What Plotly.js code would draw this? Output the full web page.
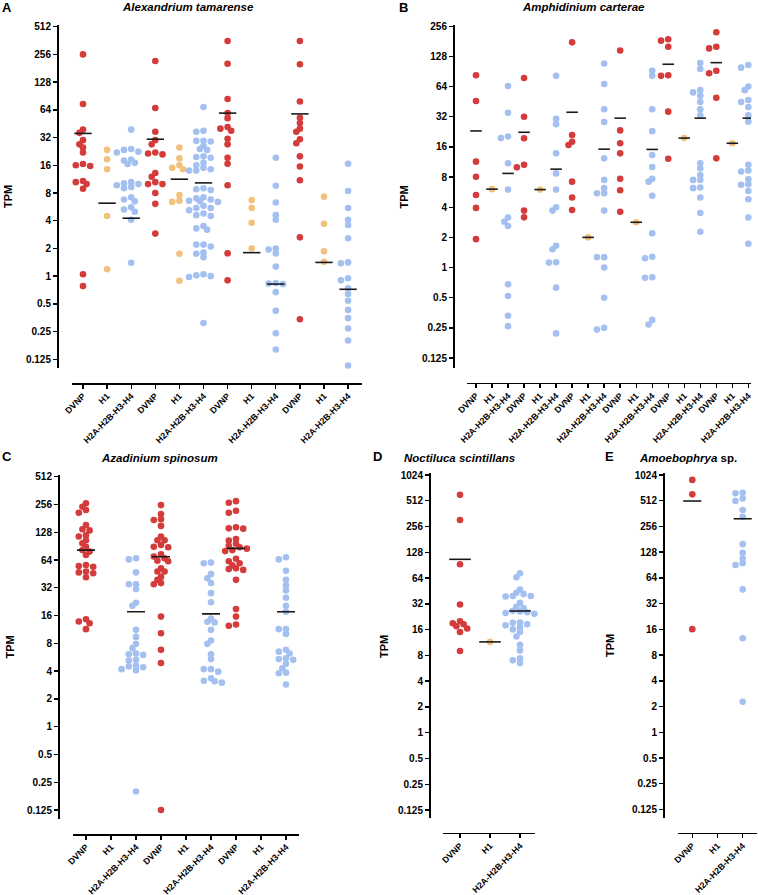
<!DOCTYPE html>
<html>
<head>
<meta charset="utf-8">
<script src="https://cdn.plot.ly/plotly-3.0.1.min.js"></script>
<style>html,body{margin:0;padding:0;background:#fff;}#chart{width:758px;height:895px;}</style>
</head>
<body>
<div id="chart"></div>
<script>
// ---------------- DATA ----------------
const groupTypes = ['DVNP', 'H1', 'H2A-H2B-H3-H4'];
const yTicksA = [0.125, 0.25, 0.5, 1, 2, 4, 8, 16, 32, 64, 128, 256, 512];
const yTicksB = [0.125, 0.25, 0.5, 1, 2, 4, 8, 16, 32, 64, 128, 256];
const yTicksD = [0.125, 0.25, 0.5, 1, 2, 4, 8, 16, 32, 64, 128, 256, 512, 1024];
const yTickText = {0.125:'0.125',0.25:'0.25',0.5:'0.5',1:'1',2:'2',4:'4',8:'8',16:'16',32:'32',64:'64',128:'128',256:'256',512:'512',1024:'1024'};

// A: Alexandrium tamarense (4 x DVNP/H1/H2A-H2B-H3-H4)
const alexandriumTPM = [
  [256, 74, 39, 36, 30, 27, 25, 22, 16.5, 16, 15.7, 10.8, 10.5, 10, 8.9, 1.05, 0.78],
  [23.5, 18.6, 14.5, 4.5, 1.19],
  [39, 24, 23.5, 22.5, 22, 18.5, 18, 17, 16.5, 10.5, 10.2, 10, 9.7, 9.3, 9, 7.2, 6.8, 6.5, 5.6, 5.3, 5.0, 4.1, 1.4],
  [217, 67, 37, 30, 27, 22, 21.5, 21, 13.2, 12, 10.5, 10, 10, 8, 6.1, 2.9],
  [25, 19, 16, 15, 14.5, 7.6, 6.6, 6.4, 1.75, 0.89],
  [68.6, 38, 37, 29.6, 29.6, 29, 26, 24, 23.5, 20, 19.7, 19.3, 17, 16, 15, 14.5, 14, 14, 9, 8.8, 8.6, 7.2, 7, 6.8, 6.6, 6.5, 6.4, 5.8, 5.5, 5.5, 5.2, 4.8, 4.6, 4.5, 3.5, 3.3, 3.2, 2.2, 2.2, 2.1, 1.8, 1.75, 1.6, 1.05, 1.02, 1.0, 0.98, 0.31],
  [358, 203, 84, 59, 52, 41.6, 40, 38, 31, 27, 19.3, 16.6, 9.7, 1.77, 0.9],
  [6.7, 5.5, 3.8, 2.0],
  [19.3, 9.6, 6.3, 4.6, 4.1, 2.0, 1.95, 1.77, 1.27, 0.84, 0.83, 0.82, 0.67, 0.42, 0.24, 0.16],
  [358, 200, 79, 52.6, 46, 40, 37, 30.7, 27.8, 20, 15.5, 11, 2.64, 0.34],
  [7.3, 3.7, 1.86, 1.43],
  [16.6, 8.4, 5.5, 4.1, 3.6, 2.58, 1.41, 1.38, 0.95, 0.9, 0.74, 0.64, 0.54, 0.43, 0.35, 0.27, 0.2, 0.107]
];
const alexandriumMean = [35.5, 6.2, 4.26, 30.7, 11.3, 10.3, 59, 1.8, 0.82, 57.8, 1.41, 0.72];

// B: Amphidinium carterae (6 x)
const amphidiniumTPM = [
  [83, 46, 11.4, 8.05, 5.3, 3.94, 1.92],
  [6.06],
  [65, 35, 20.3, 19.6, 11, 6.0, 3.16, 2.87, 2.6, 0.68, 0.52, 0.33, 0.26],
  [78, 32, 19.5, 10.6, 10, 3.7, 3.17],
  [6.0],
  [82, 30.6, 27, 13.8, 8.7, 6.0, 4.0, 3.7, 1.65, 1.52, 1.13, 1.12, 0.63, 0.22],
  [177, 21, 18, 16.7, 7.2, 5.0, 3.75],
  [2.0],
  [109, 68, 38, 28.4, 12.3, 7.5, 6.2, 5.5, 5.5, 3.7, 1.27, 1.27, 1.0, 0.5, 0.25, 0.24],
  [147, 23.4, 17.4, 13.8, 7.7, 5.9, 3.6],
  [2.83],
  [92, 82, 38, 23, 13.3, 10.1, 7.7, 7.2, 5.2, 2.2, 1.28, 1.24, 0.8, 0.79, 0.3, 0.27],
  [190, 184, 160, 83, 82, 36, 12.2],
  [19.6],
  [110, 96, 59, 56, 52, 45, 38, 33, 11, 9.8, 8.4, 7.5, 7.5, 6.3, 6.2, 5.0, 3.5, 2.28],
  [223, 160, 154, 92, 87, 49.5, 12.3],
  [17.4],
  [105, 99, 64, 59, 47, 45, 40, 33, 28.6, 10.6, 9.3, 9.1, 8.9, 7.6, 6.8, 6.7, 5.8, 4.8, 3.16, 1.73]
];
const amphidiniumMean = [23.1, 6.06, 8.7, 22.4, 6.0, 9.6, 35.5, 2.0, 15.2, 31, 2.83, 15.1, 107, 19.6, 31, 111, 17.4, 31];

// C: Azadinium spinosum (3 x)
const azadiniumTPM = [
  [264, 242, 223, 208, 153, 138, 134, 119, 115, 105, 97, 89, 82, 79, 72.5, 56.5, 55, 54, 48, 47, 46, 41.6, 14.6, 13.8, 13.2, 11.4],
  [],
  [67, 65, 47, 35, 35, 31, 22, 20.4, 11.2, 9.4, 7.9, 7.1, 6.2, 6.1, 6.0, 5.3, 5.2, 4.6, 4.5, 4.4, 4.2, 4.1, 0.198],
  [252, 202, 177, 174, 150, 115, 105, 105, 93, 89, 88, 74, 70, 67, 63, 62, 52, 48, 48, 42, 39, 36, 35, 15.6, 10.3, 6.8, 4.9, 0.125],
  [],
  [60, 59, 45, 40.5, 36, 28, 22.3, 14.9, 13.7, 13.5, 11.2, 8.6, 7.9, 6.1, 5.4, 4.2, 4.2, 3.95, 3.35, 3.15, 3.1, 3.0],
  [278, 267, 219, 208, 145, 141, 140, 108, 104, 96, 91, 88, 85, 82, 80, 66, 62, 59, 56, 52, 51, 50, 39, 18.8, 15.6, 12.8, 12.4],
  [],
  [68.6, 65, 49, 39, 34, 30, 25, 20.4, 17.6, 11.4, 11.4, 10.1, 6.8, 6.5, 6.2, 5.5, 5.4, 5.3, 4.8, 4.3, 3.85, 3.8, 2.87]
];
const azadiniumMean = [82, null, 17.6, 69.5, null, 16.7, 85.6, null, 17.6];

// D: Noctiluca scintillans
const noctilucaTPM = [
  [600, 305, 93, 31.5, 20, 19, 18.5, 17.5, 16.5, 15, 9],
  [11.5],
  [73, 65.5, 47, 43, 41.6, 39.5, 39.5, 39, 33, 29.6, 28.5, 26.5, 26, 25.5, 25, 24.5, 19.3, 19.2, 18.5, 18, 17, 16.1, 15, 13.3, 10.6, 9.1, 7.4, 7.0, 6.5]
];
const noctilucaMean = [106, 11.5, 26.4];

// E: Amoebophrya sp.
const amoebophryaTPM = [
  [897, 608, 16.1],
  [],
  [634, 625, 545, 508, 399, 333, 159, 126, 108, 95, 90.5, 47, 12.6, 2.28]
];
const amoebophryaMean = [508, null, 315];

// ---------------- STYLE / LAYOUT ----------------
const W = 758, H = 895;
const FONT = 'Liberation Sans, Arial, Helvetica, sans-serif';
const COLORS = {'DVNP': '#D43B3B', 'H1': '#F2C17E', 'H2A-H2B-H3-H4': '#A3C0F1'};
const fx = px => px / W;
const fy = py => 1 - py / H;

const panels = [
  {id: '', data: alexandriumTPM, mean: alexandriumMean, ticks: yTicksA,
   yAxisX: 57, yTop: 25, yBot: 368, ref1: [512, 26.7], ref2: [0.125, 359.3],
   xLineY: 383, xLeft: 72, xRight: 362, tick0: 83, step: 24.1},
  {id: '2', data: amphidiniumTPM, mean: amphidiniumMean, ticks: yTicksB,
   yAxisX: 453, yTop: 25, yBot: 368, ref1: [256, 26.3], ref2: [0.125, 358],
   xLineY: 382.7, xLeft: 467, xRight: 751, tick0: 476, step: 16.02},
  {id: '3', data: azadiniumTPM, mean: azadiniumMean, ticks: yTicksA,
   yAxisX: 58, yTop: 475, yBot: 819, ref1: [512, 476.7], ref2: [0.125, 810],
   xLineY: 834, xLeft: 72.7, xRight: 299, tick0: 86, step: 25},
  {id: '4', data: noctilucaTPM, mean: noctilucaMean, ticks: yTicksD,
   yAxisX: 429, yTop: 473, yBot: 818, ref1: [1024, 475], ref2: [0.125, 810],
   xLineY: 832.7, xLeft: 443, xRight: 535, tick0: 460, step: 30},
  {id: '5', data: amoebophryaTPM, mean: amoebophryaMean, ticks: yTicksD,
   yAxisX: 663, yTop: 473, yBot: 818, ref1: [1024, 475], ref2: [0.125, 809.5],
   xLineY: 832.7, xLeft: 678, xRight: 757, tick0: 692.3, step: 25.2}
];

// swarm layout (pixel space): dots may overlap a little, like the original
const COLL = 4.6, STEP = 3.6;
function swarmOffsets(vals, pxPerDec) {
  const order = vals.map((v, i) => i).sort((a, b) => vals[b] - vals[a]);
  const placed = [];
  const off = new Array(vals.length).fill(0);
  for (const i of order) {
    const y = -Math.log10(vals[i]) * pxPerDec;
    let chosen = 0;
    for (let k = 0; k < 80; k++) {
      const cand = k === 0 ? 0 : (k % 2 ? -1 : 1) * Math.ceil(k / 2) * STEP;
      const ok = placed.every(p => (p.x - cand) ** 2 + (p.y - y) ** 2 >= COLL * COLL);
      if (ok) { chosen = cand; break; }
    }
    placed.push({x: chosen, y: y});
    off[i] = chosen;
  }
  return off;
}

const traces = [];
const layout = {
  width: W, height: H,
  margin: {l: 0, r: 0, t: 0, b: 0},
  paper_bgcolor: '#fff', plot_bgcolor: 'rgba(0,0,0,0)',
  showlegend: false,
  font: {family: FONT, color: '#000'},
  annotations: []
};

panels.forEach(p => {
  const l1 = Math.log10(p.ref1[0]), l2 = Math.log10(p.ref2[0]);
  const pxPerDec = (p.ref2[1] - p.ref1[1]) / (l1 - l2);
  const yRange = [l1 - (p.yBot - p.ref1[1]) / pxPerDec, l1 + (p.ref1[1] - p.yTop) / pxPerDec];
  const xRange = [(p.xLeft - p.tick0) / p.step, (p.xRight - p.tick0) / p.step];
  const xa = 'x' + p.id, ya = 'y' + p.id;

  layout['xaxis' + p.id] = {
    domain: [fx(p.xLeft), fx(p.xRight)], anchor: 'free', position: fy(p.xLineY),
    range: xRange, type: 'linear', showgrid: false, zeroline: false,
    showline: true, linecolor: '#000', linewidth: 1.6,
    ticks: 'outside', ticklen: 4, tickwidth: 1.4, tickcolor: '#000',
    tickvals: p.data.map((d, i) => i),
    ticktext: p.data.map((d, i) => groupTypes[i % 3]),
    tickangle: -45, ticklabelstandoff: -1,
    tickfont: {family: FONT, size: 8.8, weight: 'bold', color: '#000'},
    fixedrange: true
  };
  layout['yaxis' + p.id] = {
    domain: [fy(p.yBot), fy(p.yTop)], anchor: 'free', position: fx(p.yAxisX),
    type: 'log', range: yRange, showgrid: false, zeroline: false,
    showline: true, linecolor: '#000', linewidth: 1.6,
    ticks: 'outside', ticklen: 4, tickwidth: 1.4, tickcolor: '#000',
    tickvals: p.ticks, ticktext: p.ticks.map(t => yTickText[t]),
    tickfont: {family: FONT, size: 10, weight: 'bold', color: '#000'},
    fixedrange: true
  };

  p.data.forEach((vals, gi) => {
    if (!vals.length) return;
    const off = swarmOffsets(vals, pxPerDec);
    traces.push({
      type: 'scatter', mode: 'markers', xaxis: xa, yaxis: ya,
      x: vals.map((v, i) => gi + off[i] / p.step), y: vals,
      marker: {size: 6.6, color: COLORS[groupTypes[gi % 3]], line: {width: 0}},
      cliponaxis: false, hoverinfo: 'skip'
    });
  });
  const lx = [], ly = [];
  p.mean.forEach((m, gi) => {
    if (m === null) return;
    lx.push(gi - 0.36, gi + 0.36, null);
    ly.push(m, m, null);
  });
  traces.push({
    type: 'scatter', mode: 'lines', xaxis: xa, yaxis: ya, x: lx, y: ly,
    line: {color: '#1a1a1a', width: 1.6}, cliponaxis: false, hoverinfo: 'skip'
  });
});

function ann(text, px, py, size, extra) {
  layout.annotations.push(Object.assign({
    text: text, xref: 'paper', yref: 'paper', x: fx(px), y: fy(py),
    xanchor: 'center', yanchor: 'middle', showarrow: false,
    font: {family: FONT, size: size, color: '#000', weight: 'bold'}
  }, extra || {}));
}
// panel letters
ann('A', 7, 7.5, 13); ann('B', 403, 7.5, 13); ann('C', 6.5, 457, 13); ann('D', 377, 457, 13); ann('E', 609, 457, 13);
// panel titles
ann('<i>Alexandrium tamarense</i>', 188, 7.5, 11.5);
ann('<i>Amphidinium carterae</i>', 583.5, 7.5, 11.5);
ann('<i>Azadinium spinosum</i>', 159.5, 458, 11.5);
ann('<i>Noctiluca scintillans</i>', 459, 457.5, 11.5);
ann('<i>Amoebophrya</i> sp.', 687.5, 457.5, 11.5);
// y titles
[[8, 197], [403.5, 197], [9.5, 647], [384, 647], [610, 646]].forEach(c => ann('TPM', c[0], c[1], 11, {textangle: -90}));

Plotly.newPlot('chart', traces, layout, {staticPlot: true, displayModeBar: false});
</script>
</body>
</html>
